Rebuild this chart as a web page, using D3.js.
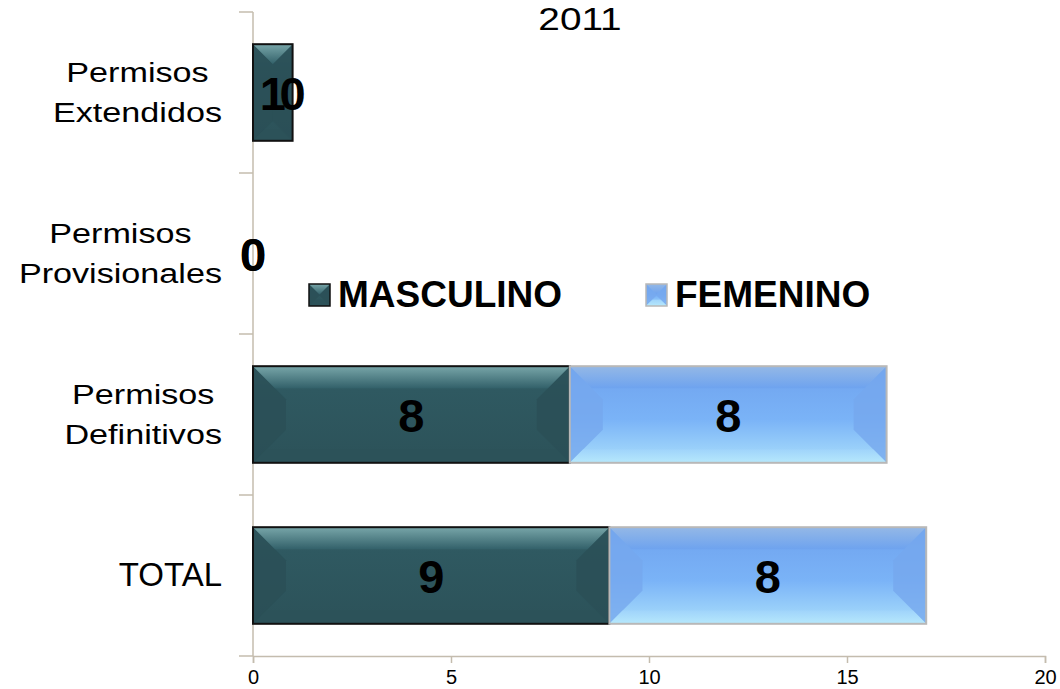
<!DOCTYPE html>
<html><head><meta charset="utf-8">
<script src="https://cdn.jsdelivr.net/npm/d3@7/dist/d3.min.js"></script>
<style>body{margin:0;background:#fff}svg{display:block}</style>
</head><body>
<svg id="c" width="1060" height="689"></svg>
<script>
const categories = ["Permisos\nExtendidos", "Permisos\nProvisionales", "Permisos\nDefinitivos", "TOTAL"];
const masculino = [1, 0, 8, 9];
const femenino = [0, 0, 8, 8];
const seriesNames = ["MASCULINO", "FEMENINO"];
const xTicks = [0, 5, 10, 15, 20];
const title = "2011";

const FONT = "'Liberation Sans', Arial, sans-serif";
const svg = d3.select("#c");
const defs = svg.append("defs");
const x = d3.scaleLinear().domain([0, 20]).range([253, 1045]);
const y = d3.scaleBand().domain(categories).range([12, 656]).paddingInner(0.4).paddingOuter(0.2);
const axisColor = "#c4bcae";

function grad(id, stops, vertical = true) {
  const g = defs.append("linearGradient").attr("id", id)
    .attr("x1", 0).attr("y1", 0).attr("x2", vertical ? 0 : 1).attr("y2", vertical ? 1 : 0);
  stops.forEach(s => g.append("stop").attr("offset", s[0]).attr("stop-color", s[1]));
}
grad("mBase", [[0, "#3a6a72"], [0.25, "#2f5961"], [1, "#2c5259"]]);
grad("mTop", [[0, "#78a6a9"], [1, "#33616a"]]);
grad("fBase", [[0, "#6fa2ee"], [0.55, "#7ab3f7"], [1, "#a9defb"]]);
grad("fTop", [[0, "#94b8e6"], [1, "#6ea3ef"]]);
grad("fBot", [[0, "#a0d4fb"], [1, "#b6e8fc"]]);

const styles = [
  {base: "url(#mBase)", top: "url(#mTop)", side: "#2b4f56", bottom: "#2c5259", stroke: "#111", sw: 2},
  {base: "url(#fBase)", top: "url(#fTop)", side: "#76a8ee", bottom: "url(#fBot)", stroke: "#b8b8b8", sw: 2}
];

function bevelBar(g, x0, y0, w, h, st) {
  if (w <= 0) return;
  const b = Math.min(33, w / 2, h / 2);
  const t = Math.min(b, 22);
  g.append("rect").attr("x", x0).attr("y", y0).attr("width", w).attr("height", h).attr("fill", st.base);
  g.append("polygon").attr("points", [[x0, y0], [x0 + b, y0 + b], [x0 + b, y0 + h - b], [x0, y0 + h]].join(" ")).attr("fill", st.side).attr("opacity", 0.8);
  g.append("polygon").attr("points", [[x0 + w, y0], [x0 + w - b, y0 + b], [x0 + w - b, y0 + h - b], [x0 + w, y0 + h]].join(" ")).attr("fill", st.side).attr("opacity", 0.8);
  g.append("polygon").attr("points", [[x0, y0], [x0 + w, y0], [x0 + w - t, y0 + t], [x0 + t, y0 + t]].join(" ")).attr("fill", st.top);
  g.append("polygon").attr("points", [[x0, y0 + h], [x0 + t * 0.6, y0 + h - t * 0.6], [x0 + w - t * 0.6, y0 + h - t * 0.6], [x0 + w, y0 + h]].join(" ")).attr("fill", st.bottom);
  g.append("rect").attr("x", x0).attr("y", y0).attr("width", w).attr("height", h)
    .attr("fill", "none").attr("stroke", st.stroke).attr("stroke-width", st.sw);
}

// axes
const axG = svg.append("g");
axG.append("line").attr("x1", x(0)).attr("x2", x(0)).attr("y1", 12).attr("y2", 656).attr("stroke", axisColor).attr("stroke-width", 1.5);
const step = y.step();
d3.range(categories.length + 1).forEach(i => {
  const yy = 12 + i * step;
  axG.append("line").attr("x1", x(0) - 14).attr("x2", x(0)).attr("y1", yy).attr("y2", yy).attr("stroke", axisColor).attr("stroke-width", 1.5);
});
const xAxis = svg.append("g").attr("transform", "translate(0,656)")
  .call(d3.axisBottom(x).tickValues(xTicks).tickSize(7));
xAxis.select(".domain").attr("stroke", axisColor).attr("stroke-width", 1.5);
xAxis.selectAll(".tick line").attr("stroke", axisColor).attr("stroke-width", 1.5);
xAxis.selectAll(".tick text").attr("fill", "#000").attr("font-size", 20)
  .attr("font-family", FONT).attr("y", 28).attr("dy", 0);

// bars
const barsG = svg.append("g");
categories.forEach((c, i) => {
  const y0 = y(c), h = y.bandwidth();
  bevelBar(barsG, x(0), y0, x(masculino[i]) - x(0), h, styles[0]);
  bevelBar(barsG, x(masculino[i]), y0, x(masculino[i] + femenino[i]) - x(masculino[i]), h, styles[1]);
});

// category labels
const labG = svg.append("g").attr("font-family", FONT).attr("fill", "#000");
categories.forEach(c => {
  const lines = c.split("\n");
  const multi = lines.length > 1;
  const sx = multi ? 1.22 : 1;
  const t = labG.append("text").attr("text-anchor", "middle").attr("font-size", multi ? 28 : 33);
  const lh = 40;
  const cy = y(c) + y.bandwidth() / 2;
  lines.forEach((ln, k) => {
    t.append("tspan").attr("x", 0).attr("y", cy + (k - (lines.length - 1) / 2) * lh + 10).text(ln);
  });
  let maxW = 0;
  t.selectAll("tspan").each(function () { maxW = Math.max(maxW, this.getComputedTextLength()); });
  t.attr("transform", `translate(${222 - maxW * sx / 2},0) scale(${sx},1)`);
});

// value labels
const valG = svg.append("g").attr("font-family", FONT).attr("font-size", 47).attr("font-weight", "bold").attr("text-anchor", "middle");
categories.forEach((c, i) => {
  const cy = y(c) + y.bandwidth() / 2 + 17;
  valG.append("text").attr("x", (x(0) + x(masculino[i])) / 2).attr("y", cy).text(masculino[i]);
  valG.append("text").attr("x", (x(masculino[i]) + x(masculino[i] + femenino[i])) / 2).attr("y", cy).text(femenino[i]);
});

// legend
const legX = [309, 646];
const legG = svg.append("g");
seriesNames.forEach((n, i) => {
  bevelBar(legG, legX[i], 284, 21, 22, Object.assign({}, styles[i], {sw: 1.5}));
  legG.append("text").attr("x", legX[i] + 29).attr("y", 307)
    .attr("font-family", FONT).attr("font-size", 37).attr("font-weight", "bold").text(n);
});

// title
svg.append("text").attr("text-anchor", "middle")
  .attr("transform", "translate(580,30) scale(1.25,1)")
  .attr("font-family", FONT).attr("font-size", 31).text(title);
</script>
</body></html>
